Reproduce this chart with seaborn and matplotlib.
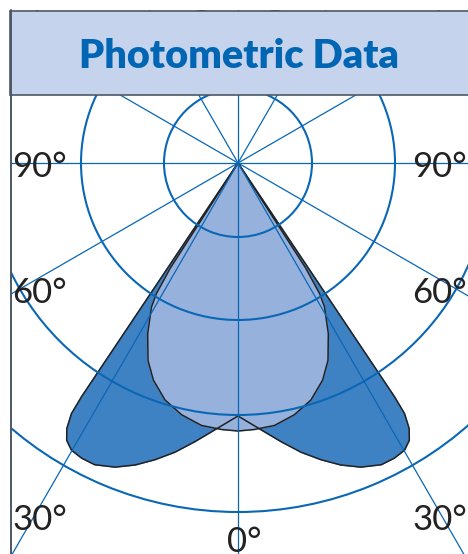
import matplotlib.pyplot as plt
import matplotlib.patches as mpatches
import numpy as np
import seaborn as sns

# photometric curves, angle from nadir (deg) vs intensity (plot units), one half
wide_deg = [0, 5.6, 8.8, 12.3, 15.6, 18.8, 22.0, 25.4, 27.9, 30.1, 31.7, 32.8,
            33.6, 33.8, 33.8, 33.3]
wide_val = [253, 270, 282, 296, 308, 319, 328, 334, 334, 332, 326, 316,
            301, 281, 251, 0]
narrow_deg = [0, 3.5, 7.9, 12.6, 17.1, 21.3, 24.5, 27.9, 31.0, 32.0, 32.8, 33.0]
narrow_val = [268, 267, 265, 258, 248, 233, 217, 193, 168, 154, 125, 0]

ring_levels = [74, 157, 252, 349]
spoke_deg = list(range(0, 360, 30))
left_labels = ["90°", "60°", "30°"]
right_labels = ["90°", "60°", "30°"]
bottom_label = "0°"
title = "Photometric Data"

W, H = 468, 554
CX, CY = 238, 163
RMAX = 460

sns.set_style("white")
plt.rcParams["font.family"] = ["Lato", "DejaVu Sans"]

grid_blue = "#0a67b5"
dark_fill = "#3f82c4"
light_fill = "#96b1dc"
edge = "#222222"
frame = "#4d5866"


def mirrored(deg, val):
    d = np.array(deg, dtype=float)
    v = np.array(val, dtype=float)
    th = np.concatenate([-d[::-1], d[1:]])
    r = np.concatenate([v[::-1], v[1:]])
    return np.deg2rad(th), r


fig = plt.figure(figsize=(W / 100, H / 100), dpi=100)
ax = fig.add_axes(
    [(CX - RMAX) / W, (H - CY - RMAX) / H, 2 * RMAX / W, 2 * RMAX / H],
    projection="polar",
)
ax.set_theta_zero_location("S")

th, r = mirrored(wide_deg, wide_val)
ax.fill(th, r, color=dark_fill, zorder=1)
th2, r2 = mirrored(narrow_deg, narrow_val)
ax.fill(th2, r2, color=light_fill, zorder=1.2)

sns.lineplot(x=th, y=r, sort=False, estimator=None, ax=ax, color=edge, lw=1.1, zorder=1.5)
sns.lineplot(x=th2, y=r2, sort=False, estimator=None, ax=ax, color=edge, lw=1.1, zorder=1.5)

ax.set_ylim(0, RMAX)
ax.set_yticks(ring_levels)
ax.set_yticklabels([])
ax.set_xticks(np.deg2rad(spoke_deg))
ax.set_xticklabels([])
ax.set_xlabel("")
ax.set_ylabel("")
ax.yaxis.grid(True, color=grid_blue, lw=1.5)
ax.xaxis.grid(True, color=grid_blue, lw=0.9)
ax.set_axisbelow(False)
ax.spines["polar"].set_visible(False)
ax.patch.set_alpha(0)


# frame: white margins, title band and border lines
def px_rect(x0, y0, x1, y1, **kw):
    fig.patches.append(mpatches.Rectangle(
        (x0 / W, 1 - y1 / H), (x1 - x0) / W, (y1 - y0) / H,
        transform=fig.transFigure, **kw))


px_rect(0, 0, 10, H, facecolor="white", edgecolor="none", zorder=5)
px_rect(0, 0, W, 10, facecolor="white", edgecolor="none", zorder=5)
px_rect(10, 10.5, W + 5, 95, facecolor="#c6d3ec", edgecolor=frame, lw=1.2, zorder=6)
fig.add_artist(plt.Line2D([10.5 / W, 10.5 / W], [1 - 10 / H, 0], color=frame, lw=1.4, zorder=7))

fig.text(239 / W, 1 - 68 / H, title, ha="center", va="baseline", fontsize=28.5,
         fontweight="heavy", color="#0066b3", zorder=8)

lab_kw = dict(fontsize=25, fontweight="normal", color="#222222", va="baseline", zorder=8)
for lab, y in zip(left_labels, [177, 303, 530]):
    fig.text(12 / W, 1 - y / H, lab, ha="left", **lab_kw)
for lab, y in zip(right_labels, [177, 303, 530]):
    fig.text(412 / W, 1 - y / H, lab, ha="left", **lab_kw)
fig.text(227 / W, 1 - 552 / H, bottom_label, ha="left", **lab_kw)

fig.savefig("out.png", dpi=100)
